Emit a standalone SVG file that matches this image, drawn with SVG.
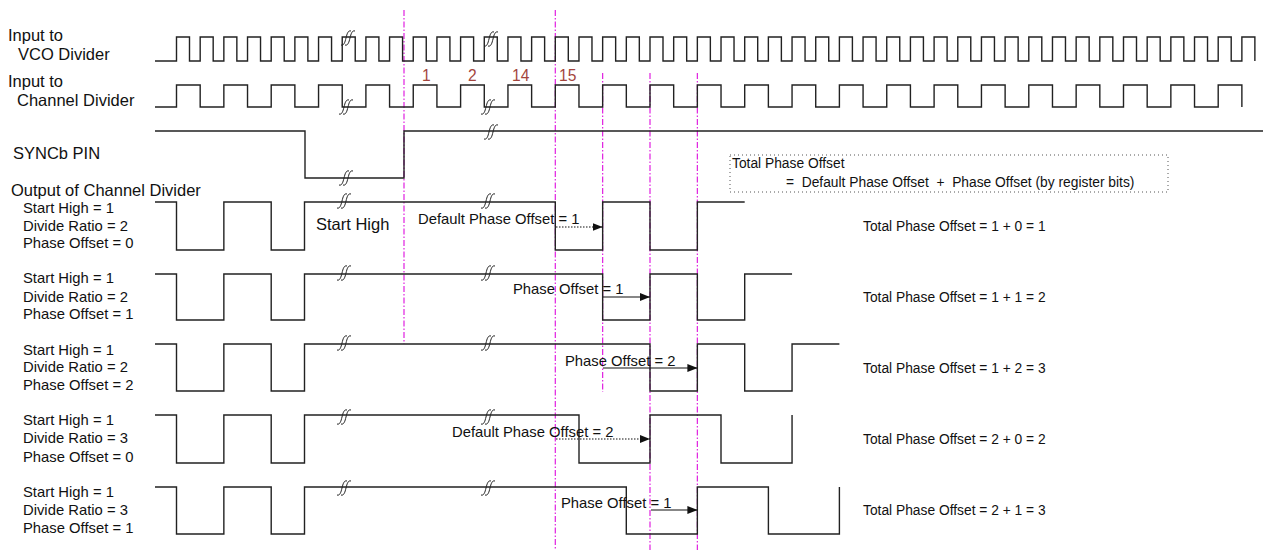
<svg xmlns="http://www.w3.org/2000/svg" width="1263" height="550" viewBox="0 0 1263 550">
<style>
text{font-family:"Liberation Sans",Arial,sans-serif;fill:#111}
.big{font-size:16.5px}
.mid{font-size:14.8px}
.sm{font-size:13.8px}
.num{font-size:15.6px;fill:#a3453d}
.wave{fill:none;stroke:#222;stroke-width:1.4}
.mag{stroke:#e020e0;stroke-width:1.2;stroke-dasharray:6 2 1.5 2;fill:none}
.brk{fill:none;stroke:#222;stroke-width:1}
.arr{stroke:#111;stroke-width:1.2;fill:none;marker-end:url(#ah)}
.dot{stroke-dasharray:1.5 1.5}
</style>
<defs>
<marker id="ah" markerWidth="10" markerHeight="8" refX="10" refY="4" orient="auto" markerUnits="userSpaceOnUse">
<path d="M0,0 L10,4 L0,8 Z" fill="#111"/>
</marker>
<g id="bk"><path class="brk" d="M-6 7 C-3 8 -2 4 -1 0 C0 -4 1 -8 4 -7"/><path class="brk" d="M-2 7 C1 8 2 4 3 0 C4 -4 5 -8 8 -7"/></g>
</defs>
<g id="labels">
<text class="big" x="8" y="41">Input to</text>
<text class="big" x="18" y="60">VCO Divider</text>
<text class="big" x="8" y="87">Input to</text>
<text class="big" x="17" y="106">Channel Divider</text>
<text class="big" x="13" y="159">SYNCb PIN</text>
<text class="big" x="11" y="196">Output of Channel Divider</text>
<text class="big" x="316" y="230">Start High</text>
<text class="mid" x="23" y="213">Start High = 1</text>
<text class="mid" x="23" y="231">Divide Ratio = 2</text>
<text class="mid" x="23" y="248">Phase Offset = 0</text>
<text class="mid" x="23" y="283">Start High = 1</text>
<text class="mid" x="23" y="302">Divide Ratio = 2</text>
<text class="mid" x="23" y="319">Phase Offset = 1</text>
<text class="mid" x="23" y="355">Start High = 1</text>
<text class="mid" x="23" y="372">Divide Ratio = 2</text>
<text class="mid" x="23" y="390">Phase Offset = 2</text>
<text class="mid" x="23" y="425">Start High = 1</text>
<text class="mid" x="23" y="443">Divide Ratio = 3</text>
<text class="mid" x="23" y="462">Phase Offset = 0</text>
<text class="mid" x="23" y="497">Start High = 1</text>
<text class="mid" x="23" y="515">Divide Ratio = 3</text>
<text class="mid" x="23" y="533">Phase Offset = 1</text>
<text class="num" x="422" y="81">1</text>
<text class="num" x="468" y="81">2</text>
<text class="num" x="512" y="81">14</text>
<text class="num" x="559" y="81">15</text>
</g>
<g id="guides">
<line class="mag" x1="404" y1="10" x2="404" y2="344"/>
<line class="mag" x1="555.3" y1="10" x2="555.3" y2="550"/>
<line class="mag" x1="602.65" y1="73" x2="602.65" y2="392"/>
<line class="mag" x1="650" y1="73" x2="650" y2="550"/>
<line class="mag" x1="697.35" y1="73" x2="697.35" y2="550"/>
</g>
<g id="vco">
<path class="wave" d="M155,61 H176.5 v-24 h13 v24 h10.675 v-24 h13 v24 h10.675 v-24 h13 v24 h10.675 v-24 h13 v24 h10.675 v-24 h13 v24 h10.675 v-24 h13 v24 h10.675 v-24 h13 v24 h10.675 v-24 h13 v24 h10.675 v-24 h13 v24 h10.675 v-24 h13 v24 h10.675 v-24 h13 v24 h10.675 v-24 h13 v24 h10.675 v-24 h13 v24 h10.675 v-24 h13 v24 h10.675 v-24 h13 v24 h10.675 v-24 h13 v24 h10.675 v-24 h13 v24 h10.675 v-24 h13 v24 h10.675 v-24 h13 v24 h10.675 v-24 h13 v24 h10.675 v-24 h13 v24 h10.675 v-24 h13 v24 h10.675 v-24 h13 v24 h10.675 v-24 h13 v24 h10.675 v-24 h13 v24 h10.675 v-24 h13 v24 h10.675 v-24 h13 v24 h10.675 v-24 h13 v24 h10.675 v-24 h13 v24 h10.675 v-24 h13 v24 h10.675 v-24 h13 v24 h10.675 v-24 h13 v24 h10.675 v-24 h13 v24 h10.675 v-24 h13 v24 h10.675 v-24 h13 v24 h10.675 v-24 h13 v24 h10.675 v-24 h13 v24 h10.675 v-24 h13 v24 h10.675 v-24 h13 v24 h10.675 v-24 h13 v24 h10.675 v-24 h13 v24 h10.675 v-24 h13 v24 h10.675 v-24 h13 v24 h10.675 v-24 h13 v24 h10.675 v-24 h13 v24 h10.675 v-24 h13 v24"/>
<use href="#bk" x="347" y="38"/>
<use href="#bk" x="490" y="39"/>
</g>
<g id="chan">
<path class="wave" d="M155,107 H176.5 v-22 h23.675 v22 h23.675 v-22 h23.675 v22 h23.675 v-22 h23.675 v22 h23.675 v-22 h23.675 v22 h23.675 v-22 h23.675 v22 h23.675 v-22 h23.675 v22 h23.675 v-22 h23.675 v22 h23.675 v-22 h23.675 v22 h23.675 v-22 h23.675 v22 h23.675 v-22 h23.675 v22 h23.675 v-22 h23.675 v22 h23.675 v-22 h23.675 v22 h23.675 v-22 h23.675 v22 h23.675 v-22 h23.675 v22 h23.675 v-22 h23.675 v22 h23.675 v-22 h23.675 v22 h23.675 v-22 h23.675 v22 h23.675 v-22 h23.675 v22 h23.675 v-22 h23.675 v22 h23.675 v-22 h23.675 v22 h23.675 v-22 h23.675 v22 h23.675 v-22 h23.675 v22 h23.675 v-22 h23.675 v22"/>
<use href="#bk" x="345" y="107"/>
<use href="#bk" x="487" y="107"/>
</g>
<g id="sync">
<path class="wave" d="M155,131 H305 V178 H404 V131 H1263"/>
<use href="#bk" x="345" y="178"/>
<use href="#bk" x="490" y="132"/>
</g>
<g id="row1">
<path class="wave" d="M155,202 H176.5 V250 H223.85 V202 H271.2 V250 H304.5 V202 H555.3 V250 H602.65 V202 H650 V250 H697.35 V202 H744.7"/>
<use href="#bk" x="343" y="201"/>
<use href="#bk" x="487" y="201"/>
</g>
<g id="row2">
<path class="wave" d="M155,274 H176.5 V320 H223.85 V274 H271.2 V320 H304.5 V274 H602.65 V320 H650 V274 H697.35 V320 H744.7 V274 H792.05"/>
<use href="#bk" x="343" y="273"/>
<use href="#bk" x="487" y="273"/>
</g>
<g id="row3">
<path class="wave" d="M155,344 H176.5 V391 H223.85 V344 H271.2 V391 H304.5 V344 H650 V391 H697.35 V344 H744.7 V391 H792.05 V344 H839.4"/>
<use href="#bk" x="343" y="343"/>
<use href="#bk" x="487" y="343"/>
</g>
<g id="row4">
<path class="wave" d="M155,415 H176.5 V463 H223.85 V415 H271.2 V463 H304.5 V415 H579 V463 H650 V415 H721 V463 H792.05 V415"/>
<use href="#bk" x="343" y="417"/>
<use href="#bk" x="487" y="417"/>
</g>
<g id="row5">
<path class="wave" d="M155,487 H176.5 V534 H223.85 V487 H271.2 V534 H304.5 V487 H626.3 V534 H697.35 V487 H768.4 V534 H839.4 V487"/>
<use href="#bk" x="343" y="488"/>
<use href="#bk" x="487" y="488"/>
</g>
<g id="connectors">
<line class="arr dot" x1="556" y1="227" x2="602.65" y2="227"/>
<line class="arr" x1="603" y1="297" x2="650" y2="297"/>
<line class="arr" x1="603" y1="368" x2="697.35" y2="368"/>
<line class="arr dot" x1="556" y1="439" x2="650" y2="439"/>
<line class="arr" x1="651" y1="510" x2="697.35" y2="510"/>
</g>
<g id="arrowlabels">
<text class="mid" x="418" y="224">Default Phase Offset = 1</text>
<text class="mid" x="513" y="294">Phase Offset = 1</text>
<text class="mid" x="565" y="366">Phase Offset = 2</text>
<text class="mid" x="452" y="437">Default Phase Offset = 2</text>
<text class="mid" x="561" y="508">Phase Offset = 1</text>
</g>
<g id="formula">
<rect x="730" y="155" width="438" height="37" fill="none" stroke="#555" stroke-width="1" stroke-dasharray="1 3"/>
<text class="sm" x="732" y="168">Total Phase Offset</text>
<text class="sm" x="786" y="187" xml:space="preserve">=  Default Phase Offset  +  Phase Offset (by register bits)</text>
</g>
<g id="totals">
<text class="sm" x="863" y="231">Total Phase Offset = 1 + 0 = 1</text>
<text class="sm" x="863" y="302">Total Phase Offset = 1 + 1 = 2</text>
<text class="sm" x="863" y="373">Total Phase Offset = 1 + 2 = 3</text>
<text class="sm" x="863" y="444">Total Phase Offset = 2 + 0 = 2</text>
<text class="sm" x="863" y="515">Total Phase Offset = 2 + 1 = 3</text>
</g>
</svg>
